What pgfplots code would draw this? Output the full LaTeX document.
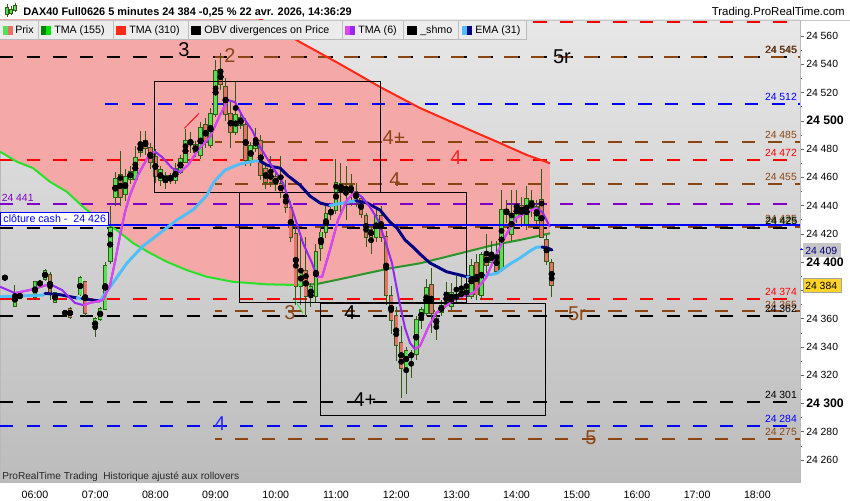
\documentclass[border=0pt]{standalone}
\usepackage{fontspec}
\setmainfont{Liberation Sans}
\usepackage{pgfplots}
\usepackage{pgfplotstable}
\pgfplotsset{compat=1.18}
\definecolor{bgtop}{RGB}{231,231,231}
\definecolor{bgbot}{RGB}{188,188,188}
\definecolor{cloud}{RGB}{245,168,168}
\definecolor{cgreen}{RGB}{88,222,88}
\definecolor{cred}{RGB}{232,112,104}
\definecolor{cwick}{RGB}{48,92,20}
\definecolor{tmaA}{RGB}{40,225,40}
\definecolor{tmaB}{RGB}{40,150,40}
\definecolor{tmaR}{RGB}{255,40,20}
\definecolor{emaLc}{RGB}{80,190,250}
\definecolor{emaDc}{RGB}{0,0,130}
\definecolor{tsixV}{RGB}{150,40,240}
\definecolor{tsixM}{RGB}{220,70,240}
\definecolor{lbrown}{RGB}{139,69,19}
\definecolor{lpurple}{RGB}{128,0,200}
\definecolor{lblue}{RGB}{0,0,255}
\definecolor{lred}{RGB}{255,0,0}
\definecolor{tagy}{RGB}{255,212,40}
\definecolor{legbg}{RGB}{236,236,236}
\pgfplotstableread{
t o h l c
330 24389 24390 24388 24389
340 24369 24384 24368 24378
345 24376 24377 24375 24376
360 24375 24387 24373 24386
365 24385 24386 24384 24385
370 24388 24395 24387 24394
375 24391 24393 24373 24378
380 24372 24379 24371 24378
390 24364 24365 24363 24364
395 24367 24368 24360 24361
405 24377 24390 24376 24389
410 24386 24387 24362 24364
420 24353 24361 24347 24360
425 24360 24368 24358 24367
430 24367 24400 24366 24397
435 24401 24440 24399 24424
440 24446 24464 24440 24459
445 24462 24479 24440 24446
450 24448 24466 24443 24460
455 24459 24468 24455 24464
460 24459 24482 24456 24474
465 24478 24493 24474 24483
470 24486 24493 24476 24481
475 24481 24484 24466 24471
480 24474 24480 24456 24461
485 24458 24468 24454 24465
490 24457 24464 24452 24461
495 24461 24463 24455 24458
500 24458 24470 24455 24466
505 24464 24476 24462 24473
510 24471 24494 24470 24486
515 24486 24492 24477 24484
520 24483 24486 24474 24478
525 24476 24499 24473 24495
530 24497 24502 24481 24485
535 24483 24509 24481 24505
540 24505 24543 24503 24535
545 24536 24548 24522 24526
550 24524 24530 24500 24505
555 24505 24515 24481 24492
560 24492 24528 24490 24504
565 24497 24506 24494 24502
570 24497 24502 24468 24472
575 24472 24485 24468 24482
580 24481 24495 24478 24487
585 24486 24490 24458 24462
590 24466 24470 24452 24457
595 24464 24475 24453 24457
600 24460 24464 24450 24455
605 24455 24475 24445 24450
610 24447 24458 24435 24439
615 24438 24443 24414 24418
620 24420 24425 24370 24383
625 24383 24418 24370 24394
630 24394 24418 24362 24376
635 24376 24385 24368 24382
640 24376 24413 24372 24407
645 24410 24427 24401 24421
650 24421 24441 24417 24434
655 24434 24440 24430 24437
660 24437 24473 24434 24456
665 24455 24470 24432 24451
670 24451 24468 24430 24453
675 24454 24462 24440 24450
680 24450 24456 24439 24444
685 24445 24447 24431 24434
690 24433 24435 24411 24418
695 24423 24425 24406 24418
700 24418 24438 24414 24433
705 24433 24440 24414 24418
710 24418 24422 24370 24377
715 24376 24383 24349 24359
720 24362 24368 24330 24341
725 24343 24355 24304 24325
730 24326 24340 24307 24337
735 24335 24338 24318 24333
740 24335 24362 24331 24359
745 24359 24368 24353 24366
750 24364 24388 24362 24382
755 24384 24396 24350 24364
760 24356 24363 24345 24360
765 24365 24373 24362 24369
770 24370 24386 24368 24378
775 24369 24385 24366 24378
780 24377 24390 24371 24374
785 24379 24390 24373 24376
790 24376 24392 24374 24381
795 24376 24402 24374 24397
800 24399 24406 24373 24377
805 24377 24407 24374 24405
810 24405 24420 24392 24398
815 24400 24415 24396 24406
820 24405 24415 24392 24394
825 24395 24451 24393 24437
830 24434 24444 24428 24437
835 24420 24451 24415 24434
840 24432 24451 24428 24440
845 24440 24446 24425 24434
850 24426 24454 24423 24445
855 24443 24451 24432 24438
860 24430 24444 24427 24439
865 24444 24466 24417 24418
870 24416 24419 24398 24401
875 24399 24402 24375 24384
}\candles
\tikzset{hl/.style={line width=1.5pt, dash pattern=on 10pt off 10pt},
 rl/.style={anchor=base east, inner sep=0pt, yshift=2.5pt, font=\fontsize{7.8}{9}\selectfont},
 bigl/.style={font=\fontsize{15}{15}\selectfont, inner sep=0pt}}
\newcommand\legf{\fontsize{8}{9}\selectfont}
\begin{document}
\begin{tikzpicture}
\useasboundingbox (0,0) rectangle (637.5pt,375pt);
\begin{axis}[
 at={(0pt,13.5pt)}, anchor=south west,
 width=600pt, height=346.5pt, scale only axis,
 xmin=325.12, xmax=1122.5, ymin=24244.3, ymax=24571.3,
 scaled y ticks=false, scaled x ticks=false,
 axis background/.style={top color=bgtop, bottom color=bgbot},
 axis line style={draw=gray!55},
 ytick={24260,24280,...,24560},
 yticklabels={24 260,24 280,{\fontsize{9.2}{10}\selectfont\bfseries 24 300},24 320,24 340,24 360,24 380,{\fontsize{9.2}{10}\selectfont\bfseries 24 400},24 420,24 440,24 460,24 480,{\fontsize{9.2}{10}\selectfont\bfseries 24 500},24 520,24 540,24 560},
 ytick pos=right, yticklabel pos=right,
 minor y tick num=1,
 tick align=outside,
 major tick length=3pt, minor tick length=1.8pt,
 tick style={gray!80!black},
 xtick={360,420,...,1080},
 xticklabels={06:00,07:00,08:00,09:00,10:00,11:00,12:00,13:00,14:00,15:00,16:00,17:00,18:00},
 xtick style={draw=none},
 x tick label style={font=\fontsize{8}{9}\selectfont, anchor=north, inner sep=0pt, yshift=-3.5pt},
 y tick label style={font=\fontsize{7.8}{9}\selectfont, anchor=west, inner sep=0pt, xshift=1.5pt},
 emaL/.style={emaLc, line width=2.2pt, line cap=round, line join=round},
 emaD/.style={emaDc, line width=2.2pt, line cap=round, line join=round},
]
% cloud between TMA155 and TMA310
\addplot[fill=cloud, draw=none] coordinates {
(325.1,24478.1) (341.8,24471.0) (358.0,24466.5) (374.9,24456.8) (391.6,24449.8) (407.8,24439.1) (424.8,24429.7) (441.4,24422.7) (457.7,24413.4) (474.6,24406.4) (491.3,24400.2) (511.2,24394.3) (531.1,24389.6) (557.4,24386.0) (590.9,24384.2) (624.1,24383.7) (640.8,24384.4) (667.0,24388.3) (690.6,24392.0) (713.8,24395.5) (743.7,24399.1) (763.7,24402.6) (790.3,24407.3) (816.8,24412.0) (843.4,24415.6) (873.3,24420.3)
(873.3,24469.9) (850.4,24475.7) (823.5,24484.2) (793.6,24493.4) (743.7,24509.0) (703.9,24523.9) (664.0,24540.1) (624.1,24555.7) (574.3,24576.2) (524.5,24596.0) (325.1,24596.0)} -- cycle;
% horizontal levels
\addplot[lred, hl] coordinates {(325.12,24570) (1122.5,24570)};
\addplot[black, hl] coordinates {(325.12,24545) (1122.5,24545)};
\addplot[lbrown, hl, dash phase=3pt] coordinates {(539.4,24545) (1122.5,24545)};
\addplot[lblue, hl] coordinates {(429.8,24512) (1122.5,24512)};
\addplot[lbrown, hl, dash phase=5pt] coordinates {(539.4,24485) (1122.5,24485)};
\addplot[lred, hl] coordinates {(325.12,24472) (1122.5,24472)};
\addplot[lbrown, hl, dash phase=5pt] coordinates {(539.4,24455) (1122.5,24455)};
\addplot[lpurple, hl] coordinates {(325.12,24441) (1122.5,24441)};
\addplot[lbrown, hl, dash phase=5pt] coordinates {(539.4,24425) (1122.5,24425)};
\addplot[black, hl] coordinates {(325.12,24424.2) (1122.5,24424.2)};
\addplot[lred, hl] coordinates {(325.12,24374) (1122.5,24374)};
\addplot[lbrown, hl, dash phase=5pt] coordinates {(539.4,24365) (1122.5,24365)};
\addplot[black, hl] coordinates {(325.12,24362) (1122.5,24362)};
\addplot[black, hl] coordinates {(325.12,24301) (1122.5,24301)};
\addplot[lblue, hl] coordinates {(325.12,24284) (1122.5,24284)};
\addplot[lbrown, hl, dash phase=5pt] coordinates {(539.4,24275) (1122.5,24275)};
% TMA 155 and TMA 310
\addplot[tmaA, line width=1.5pt] coordinates {(325.1,24478.1) (341.8,24471.0) (358.0,24466.5) (374.9,24456.8) (391.6,24449.8) (407.8,24439.1) (424.8,24429.7) (441.4,24422.7) (457.7,24413.4) (474.6,24406.4) (491.3,24400.2) (511.2,24394.3) (531.1,24389.6) (557.4,24386.0) (590.9,24384.2) (624.1,24383.7)};
\addplot[tmaB, line width=1.5pt] coordinates {(624.1,24383.7) (640.8,24384.4) (667.0,24388.3) (690.6,24392.0) (713.8,24395.5) (743.7,24399.1) (763.7,24402.6) (790.3,24407.3) (816.8,24412.0) (843.4,24415.6) (873.3,24420.3)};
\addplot[tmaR, line width=1.5pt] coordinates {(524.5,24596.0) (574.3,24576.2) (624.1,24555.7) (664.0,24540.1) (703.9,24523.9) (743.7,24509.0) (793.6,24493.4) (823.5,24484.2) (850.4,24475.7) (873.3,24469.9)};
% candles: wicks, body outlines, green bodies, red bodies
\addplot[only marks, mark=none, error bars/.cd, y dir=both, y explicit, error mark=none, error bar style={line width=0.75pt, cwick}]
 table[x=t, y expr=(\thisrow{h}+\thisrow{l})/2, y error expr=(\thisrow{h}-\thisrow{l})/2] {\candles};
\addplot[only marks, mark=none, error bars/.cd, y dir=both, y explicit, error mark=none, error bar style={line width=3.4pt, cwick}]
 table[x=t, y expr=(\thisrow{o}+\thisrow{c})/2, y error expr=abs(\thisrow{c}-\thisrow{o})/2+0.7] {\candles};
\addplot[only marks, mark=none, error bars/.cd, y dir=both, y explicit, error mark=none, error bar style={line width=2.1pt, cgreen}]
 table[x=t, y expr=(\thisrow{o}+\thisrow{c})/2, y error expr={max(\thisrow{c}-\thisrow{o},0)/2}] {\candles};
\addplot[only marks, mark=none, error bars/.cd, y dir=both, y explicit, error mark=none, error bar style={line width=2.1pt, cred}]
 table[x=t, y expr=(\thisrow{o}+\thisrow{c})/2, y error expr={max(\thisrow{o}-\thisrow{c},0)/2}] {\candles};
% boxes
\addplot[black, line width=0.75pt] coordinates {(478.9,24527.9) (703.9,24527.9) (703.9,24449.5) (478.9,24449.5) (478.9,24527.9)};
\addplot[black, line width=0.75pt] coordinates {(564.3,24449.5) (789.6,24449.5) (789.6,24371.0) (564.3,24371.0) (564.3,24449.5)};
\addplot[black, line width=0.75pt] coordinates {(644.1,24370.8) (869.3,24370.8) (869.3,24291.7) (644.1,24291.7) (644.1,24370.8)};
\addplot[lred, line width=0.6pt] coordinates {(508.8,24494.6) (523.5,24505.2)};
\addplot[tmaA, line width=0.6pt] coordinates {(619.1,24373.1) (627.1,24363.9)};
% cloture cash
\addplot[lblue, line width=1.5pt] coordinates {(325.12,24426) (1122.5,24426)};
% EMA 31
\addplot[emaL] coordinates {(325.1,24375.4) (368.0,24376.6) (371.0,24377.7)};
\addplot[emaD] coordinates {(370.0,24377.8) (384.9,24376.9) (401.9,24374.5)};
\addplot[emaL] coordinates {(401.9,24374.5) (406.8,24374.2)};
\addplot[emaD] coordinates {(406.8,24374.2) (416.8,24373.1) (424.8,24372.4)};
\addplot[emaL] coordinates {(424.8,24372.4) (434.8,24382.3) (451.7,24399.3) (467.6,24411.3) (484.6,24420.5) (501.5,24429.7) (518.5,24437.5) (531.4,24447.4) (538.4,24456.6) (549.4,24465.1) (564.3,24469.4) (579.3,24471.5) (584.3,24471.5)};
\addplot[emaD] coordinates {(584.3,24471.5) (591.2,24468.6) (597.2,24467.4) (604.2,24466.5) (611.2,24461.6) (624.1,24454.5) (634.1,24446.7) (644.1,24441.8) (654.0,24440.0)};
\addplot[emaL] coordinates {(654.0,24440.0) (667.0,24441.8) (679.9,24443.4)};
\addplot[emaD] coordinates {(679.9,24443.4) (690.9,24441.8) (703.9,24436.8) (713.8,24428.3) (720.8,24424.1) (728.8,24415.6) (736.8,24410.6) (743.7,24405.7) (753.7,24399.3) (770.3,24393.1) (790.3,24389.6) (793.6,24389.4)};
\addplot[emaL] coordinates {(790.6,24389.4) (796.6,24389.4)};
\addplot[emaD] coordinates {(796.6,24389.4) (800.5,24389.4)};
\addplot[emaL] coordinates {(800.5,24389.4) (820.5,24392.0) (833.4,24398.6) (843.4,24402.8) (853.4,24407.8) (860.3,24410.6) (865.3,24410.6)};
\addplot[emaD] coordinates {(865.3,24410.6) (871.3,24409.9) (875.3,24408.5)};
% TMA 6
\addplot[tsixV, line width=1.5pt, line join=round] coordinates {(325.1,24382.5) (340.1,24378.0) (355.0,24380.2) (374.9,24384.4) (386.9,24380.2) (399.9,24371.0) (407.8,24369.6) (414.8,24371.0) (427.8,24373.1) (434.8,24383.7) (439.7,24400.0) (444.7,24418.4) (449.7,24435.4) (454.7,24447.4) (462.7,24461.6) (472.6,24474.3) (479.6,24478.2) (486.6,24474.3) (496.6,24466.5) (504.5,24463.7) (512.5,24468.6) (522.5,24479.3) (534.4,24488.5) (544.4,24504.0) (552.4,24514.6) (559.3,24513.2) (567.3,24502.6) (576.3,24493.4) (584.3,24481.4) (594.2,24470.1) (607.2,24455.9) (617.2,24435.4) (627.1,24413.4) (636.1,24399.3) (641.1,24389.4) (646.1,24389.4) (654.0,24408.5) (662.0,24429.7) (671.0,24443.9) (679.0,24449.5) (685.9,24446.0) (693.9,24438.9) (701.9,24429.7) (708.8,24415.6) (715.8,24399.3) (721.8,24376.6) (728.8,24353.3) (733.8,24342.7) (738.7,24338.4) (743.7,24340.5) (751.7,24353.3) (759.7,24363.9) (769.6,24368.9) (780.6,24374.5) (796.6,24378.0) (809.5,24388.7) (819.5,24404.9) (829.4,24419.1) (839.4,24431.1) (850.4,24435.4) (860.3,24438.2) (866.3,24434.7) (873.3,24424.8)};
\addplot[tsixM, line width=1.5pt, line join=round] coordinates {(340.1,24378.0) (355.0,24380.2) (374.9,24384.4)};
\addplot[tsixM, line width=1.5pt, line join=round] coordinates {(407.8,24369.6) (414.8,24371.0) (427.8,24373.1) (434.8,24383.7) (439.7,24400.0) (444.7,24418.4) (449.7,24435.4) (454.7,24447.4) (462.7,24461.6) (472.6,24474.3) (479.6,24478.2)};
\addplot[tsixM, line width=1.5pt, line join=round] coordinates {(504.5,24463.7) (512.5,24468.6) (522.5,24479.3) (534.4,24488.5) (544.4,24504.0) (552.4,24514.6)};
\addplot[tsixM, line width=1.5pt, line join=round] coordinates {(641.1,24389.4) (646.1,24389.4) (654.0,24408.5) (662.0,24429.7) (671.0,24443.9) (679.0,24449.5)};
\addplot[tsixM, line width=1.5pt, line join=round] coordinates {(738.7,24338.4) (743.7,24340.5) (751.7,24353.3) (759.7,24363.9) (769.6,24368.9) (780.6,24374.5) (796.6,24378.0) (809.5,24388.7) (819.5,24404.9) (829.4,24419.1) (839.4,24431.1) (850.4,24435.4) (860.3,24438.2)};
% level labels
\node[rl, text=black] at (axis cs:1119.6,24545) {24 545};
\node[rl, text=lbrown, xshift=0.4pt, yshift=0.3pt] at (axis cs:1119.6,24545) {24 545};
\node[rl, text=lblue] at (axis cs:1119.6,24512) {24 512};
\node[rl, text=lbrown] at (axis cs:1119.6,24485) {24 485};
\node[rl, text=lred] at (axis cs:1119.6,24472) {24 472};
\node[rl, text=lbrown] at (axis cs:1119.6,24455) {24 455};
\node[rl, text=tmaB, yshift=-0.6pt] at (axis cs:1119.6,24425) {24 425};
\node[rl, text=lbrown, yshift=0.5pt] at (axis cs:1119.6,24425) {24 425};
\node[rl, text=black, xshift=0.4pt] at (axis cs:1119.6,24424.2) {24 425};
\node[rl, text=lred] at (axis cs:1119.6,24374) {24 374};
\node[rl, text=lbrown] at (axis cs:1119.6,24365) {24 365};
\node[rl, text=black] at (axis cs:1119.6,24362) {24 362};
\node[rl, text=black] at (axis cs:1119.6,24301) {24 301};
\node[rl, text=lblue] at (axis cs:1119.6,24284) {24 284};
\node[rl, text=lbrown] at (axis cs:1119.6,24275) {24 275};
\node[anchor=base west, inner sep=0pt, yshift=1.8pt, text=lpurple, font=\fontsize{7.8}{9}\selectfont] at (axis cs:326.6,24441) {24 441};
\node[anchor=south west, draw=lblue, fill=white, line width=0.75pt, inner xsep=2pt, inner ysep=2.2pt, text=lblue, font=\fontsize{8}{9}\selectfont] at (axis cs:325.4,24425.3) {clôture cash -\ \ 24 426};
% wave labels
\node[bigl, text=black] at (axis cs:508.5,24550) {3};
\node[bigl, text=lbrown] at (axis cs:554.4,24546.5) {2};
\node[bigl, text=lbrown] at (axis cs:717.8,24488.4) {4+};
\node[bigl, text=lred!85!white] at (axis cs:779.6,24473.6) {4};
\node[bigl, text=lbrown] at (axis cs:718.8,24458.0) {4};
\node[bigl, text=lbrown] at (axis cs:614.2,24363.9) {3};
\node[bigl, text=black] at (axis cs:674.0,24363.9) {4};
\node[bigl, text=black] at (axis cs:688.9,24302.3) {4+};
\node[bigl, text=black] at (axis cs:885.3,24545.4) {5r};
\node[bigl, text=lbrown] at (axis cs:900.2,24363.2) {5r};
\node[bigl, text=lblue!85!white] at (axis cs:544.4,24285.4) {4};
\node[bigl, text=lbrown] at (axis cs:914.2,24275.4) {5};
\end{axis}
\begin{scope}[x=0.75pt,y=-0.75pt,shift={(0pt,375pt)}]
% title row
\draw[gray!45] (0,20.5) -- (850,20.5);
\foreach \xx/\yt/\yb/\bt/\bb in {7/4/17/7/14, 11/6/15/9/13, 15/3/12/5/10}{
 \draw[cwick, line width=0.6pt] (\xx,\yt) -- (\xx,\yb);
 \fill[cgreen, draw=cwick, line width=0.4pt] (\xx-1.5,\bt) rectangle (\xx+1.5,\bb);
}
\node[anchor=base west, inner sep=0pt, font=\fontsize{8.2}{9}\selectfont\bfseries] at (23,15.5) {DAX40 Full0626 5 minutes 24 384 -0,25 \% 22 avr. 2026, 14:36:29};
\node[anchor=base east, inner sep=0pt, font=\fontsize{8.6}{9}\selectfont] at (845,15.5) {Trading.ProRealTime.com};
% legend bar
\fill[legbg] (0,21) rectangle (526,39.5);
\draw[gray!55] (0,39.5) -- (526,39.5) -- (526,21);
\foreach \sx in {38,113,188,342,403,458}{\draw[gray!50] (\sx,21) -- (\sx,39.5);}
\fill[cgreen] (3,26) rectangle (8,35); \fill[cred] (8,26) rectangle (13,35);
\fill[green!50!black] (41,26) rectangle (46,35); \fill[green!90!black] (46,26) rectangle (51,35);
\fill[tmaR] (116,26) rectangle (126,35);
\fill[black] (191,26) rectangle (201,35);
\fill[tsixM] (345,26) rectangle (350,35); \fill[tsixV] (350,26) rectangle (355,35);
\fill[black] (407,26) rectangle (417,35);
\fill[emaLc] (462,26) rectangle (467,35); \fill[emaDc] (467,26) rectangle (472,35);
\node[anchor=base west, inner sep=0pt, font=\legf] at (15,34) {Prix};
\node[anchor=base west, inner sep=0pt, font=\legf] at (54,34) {TMA (155)};
\node[anchor=base west, inner sep=0pt, font=\legf] at (129,34) {TMA (310)};
\node[anchor=base west, inner sep=0pt, font=\legf] at (204,34) {OBV divergences on Price};
\node[anchor=base west, inner sep=0pt, font=\legf] at (358,34) {TMA (6)};
\node[anchor=base west, inner sep=0pt, font=\legf] at (420,34) {\_shmo};
\node[anchor=base west, inner sep=0pt, font=\legf] at (475,34) {EMA (31)};
% bottom note
\node[anchor=base west, inner sep=0pt, text=black!85, font=\fontsize{7.6}{9}\selectfont] at (2,479.5) {ProRealTime Trading\ \ Historique ajusté aux rollovers};
% price tags
\fill[gray!45] (802.5,243.5) rectangle (841,257.5);
\draw[lblue, line width=0.9pt] (800,249.3) -- (803,249.3);
\node[anchor=base west, inner sep=0pt, text=emaDc, font=\fontsize{7.8}{9}\selectfont] at (805,254.3) {24 409};
\fill[tagy, draw=gray!70] (803,278.5) rectangle (841,292.5);
\node[anchor=base west, inner sep=0pt, text=black, font=\fontsize{7.8}{9}\selectfont] at (805,289.3) {24 384};
\end{scope}
\end{tikzpicture}
\end{document}
